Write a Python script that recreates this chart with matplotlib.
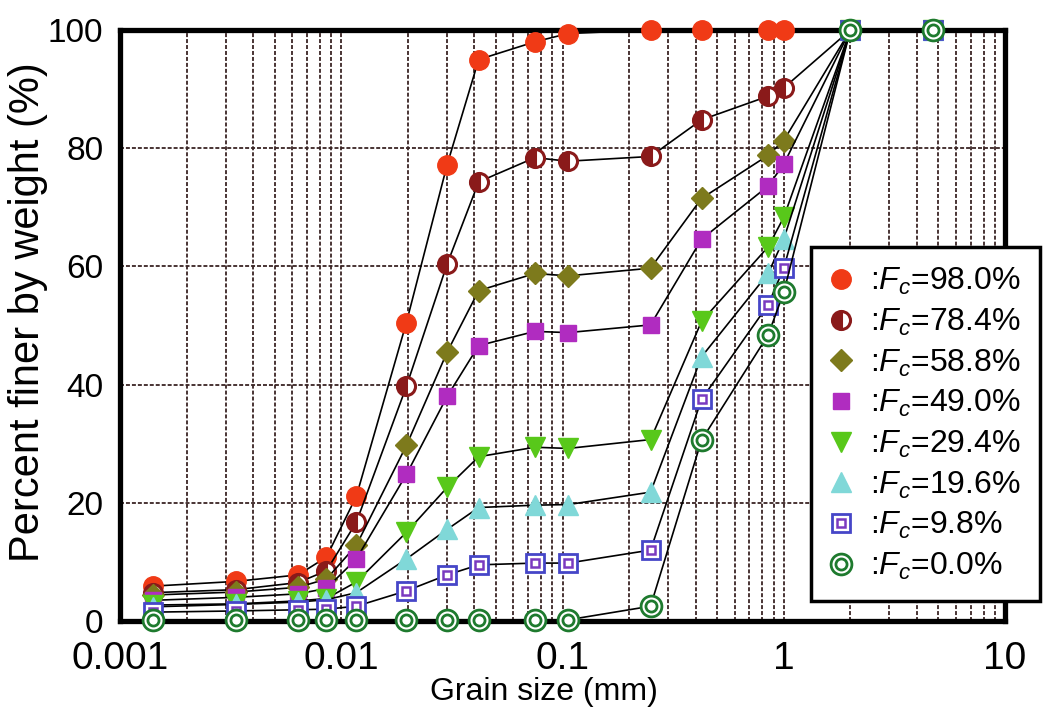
import matplotlib
matplotlib.use('Agg')
import matplotlib.pyplot as plt
from matplotlib.ticker import FixedLocator, NullFormatter, FixedFormatter
from matplotlib.legend_handler import HandlerTuple
from matplotlib.lines import Line2D
from matplotlib import font_manager

# ---------------- data ----------------
grain_size = [0.00141, 0.00334, 0.00638, 0.00857, 0.0117, 0.0197, 0.0301, 0.0418,
              0.075, 0.106, 0.25, 0.425, 0.85, 1.0, 2.0, 4.75]

fc_980 = [5.9, 6.7, 7.8, 10.8, 21.1, 50.5, 77.2, 95.0, 98.0, 99.4, 100, 100, 100, 100, 100, 100]
fc_784 = [4.8, 5.3, 6.5, 8.5, 16.7, 39.7, 60.4, 74.3, 78.4, 77.8, 78.6, 84.8, 88.8, 90.2, 100, 100]
fc_588 = [4.4, 4.9, 5.7, 7.1, 12.8, 29.7, 45.5, 55.9, 58.8, 58.4, 59.7, 71.5, 78.8, 81.3, 100, 100]
fc_490 = [3.5, 4.0, 4.6, 5.5, 10.5, 24.8, 38.0, 46.6, 49.0, 48.8, 50.1, 64.6, 73.6, 77.3, 100, 100]
fc_294 = [2.7, 2.9, 3.4, 3.8, 6.6, 15.0, 22.6, 27.8, 29.4, 29.2, 30.7, 50.7, 63.3, 68.3, 100, 100]
fc_196 = [2.4, 2.8, 3.2, 3.6, 4.8, 10.5, 15.5, 19.2, 19.6, 19.7, 21.8, 44.7, 58.8, 64.6, 100, 100]
fc_98 = [1.5, 1.7, 1.9, 2.0, 2.5, 5.1, 7.8, 9.5, 9.8, 9.8, 12.0, 37.5, 53.5, 59.7, 100, 100]
fc_00 = [0.2, 0.2, 0.2, 0.2, 0.2, 0.2, 0.2, 0.2, 0.2, 0.2, 2.5, 30.6, 48.4, 55.6, 100, 100]

series_labels = ['98.0', '78.4', '58.8', '49.0', '29.4', '19.6', '9.8', '0.0']
x_ticks = [0.001, 0.01, 0.1, 1, 10]
x_ticklabels = ['0.001', '0.01', '0.1', '1', '10']
y_ticks = [0, 20, 40, 60, 80, 100]

# ---------------- fonts ----------------
def has_font(name):
    try:
        font_manager.findfont(name, fallback_to_default=False)
        return True
    except Exception:
        return False

base_font = 'Liberation Sans' if has_font('Liberation Sans') else 'DejaVu Sans'
plt.rcParams['font.family'] = [base_font, 'DejaVu Sans']
plt.rcParams['mathtext.fontset'] = 'custom'
plt.rcParams['mathtext.rm'] = base_font
plt.rcParams['mathtext.it'] = base_font + ':italic'

fig = plt.figure(figsize=(10.43, 7.08), dpi=100)
ax = fig.add_axes([120 / 1043, 1 - 621 / 708, 885 / 1043, 591 / 708])

ax.set_xscale('log')
ax.set_xlim(0.001, 10)
ax.set_ylim(0, 100)

# grid
minor = []
for dec in [0.001, 0.01, 0.1, 1]:
    for k in range(2, 10):
        minor.append(dec * k)
ax.xaxis.set_major_locator(FixedLocator(x_ticks))
ax.xaxis.set_major_formatter(FixedFormatter(x_ticklabels))
ax.xaxis.set_minor_locator(FixedLocator(minor))
ax.xaxis.set_minor_formatter(NullFormatter())
ax.yaxis.set_major_locator(FixedLocator(y_ticks))
grid_kw = dict(color='#3a2424', linestyle=(0, (2.2, 1.1)), linewidth=1.3)
ax.grid(True, which='major', axis='both', **grid_kw)
ax.grid(True, which='minor', axis='x', **grid_kw)
ax.set_axisbelow(True)

for s in ax.spines.values():
    s.set_linewidth(3.8)
    s.set_color('black')
    s.set_zorder(2.5)

ax.tick_params(axis='both', which='both', length=0)
ax.tick_params(axis='y', labelsize=24, pad=12)
ax.tick_params(axis='x', labelsize=28, pad=14.5)

ax.set_ylabel('Percent finer by weight (%)', fontsize=30)
ax.yaxis.set_label_coords(-0.081, 0.523)
ax.set_xlabel('Grain size (mm)', fontsize=23, va='bottom')
ax.xaxis.set_label_coords(0.479, -0.1455)

lw = 1.2
handles = []

# 98.0
h, = ax.plot(grain_size, fc_980, color='black', lw=lw, marker='o', ms=14,
             mfc='#f03a16', mec='#f03a16', zorder=3, clip_on=False)
handles.append(h)
# 78.4 half-filled circle
h, = ax.plot(grain_size, fc_784, color='black', lw=lw, marker='o', ms=13,
             fillstyle='left', mfc='#8a1a1a', mfcalt='white', mec='#8a1a1a', mew=2.2,
             zorder=3.1, clip_on=False)
handles.append(h)
# 58.8 diamond
h, = ax.plot(grain_size, fc_588, color='black', lw=lw, marker='D', ms=11,
             mfc='#7d7a1c', mec='#7d7a1c', zorder=3.2, clip_on=False)
handles.append(h)
# 49.0 square
h, = ax.plot(grain_size, fc_490, color='black', lw=lw, marker='s', ms=12,
             mfc='#b02cc0', mec='#b02cc0', zorder=3.3, clip_on=False)
handles.append(h)
# 29.4 triangle down
h, = ax.plot(grain_size, fc_294, color='black', lw=lw, marker='v', ms=14,
             mfc='#58c81a', mec='#58c81a', zorder=3.4, clip_on=False)
handles.append(h)
# 19.6 triangle up
h, = ax.plot(grain_size, fc_196, color='black', lw=lw, marker='^', ms=14,
             mfc='#80d8d8', mec='#80d8d8', zorder=3.5, clip_on=False)
handles.append(h)
# 9.8 double square
h1, = ax.plot(grain_size, fc_98, color='black', lw=lw, marker='s', ms=13,
              mfc='white', mec='#4646c8', mew=2.0, zorder=3.6, clip_on=False)
h2, = ax.plot(grain_size, fc_98, ls='none', marker='s', ms=5.5,
              mfc='white', mec='#7a3ac0', mew=1.8, zorder=3.61, clip_on=False)
handles.append((h1, h2))
# 0.0 double circle
h1, = ax.plot(grain_size, fc_00, color='black', lw=lw, marker='o', ms=15,
              mfc='white', mec='#1e7a2e', mew=2.0, zorder=3.7, clip_on=False)
h2, = ax.plot(grain_size, fc_00, ls='none', marker='o', ms=8,
              mfc='white', mec='#1e7a2e', mew=2.0, zorder=3.71, clip_on=False)
handles.append((h1, h2))

labels = [r':$\mathit{F}_{\mathit{c}}$=' + v + '%' for v in series_labels]


def legend_copy(x):
    return Line2D([], [], ls='none', marker=x.get_marker(), ms=x.get_markersize(),
                  mfc=x.get_markerfacecolor(), mec=x.get_markeredgecolor(),
                  mfcalt=x.get_markerfacecoloralt(), fillstyle=x.get_fillstyle(),
                  mew=x.get_markeredgewidth())


leg_handles = []
for hh in handles:
    if isinstance(hh, tuple):
        leg_handles.append(tuple(legend_copy(x) for x in hh))
    else:
        leg_handles.append(legend_copy(hh))

leg = fig.legend(leg_handles, labels, loc='upper right', bbox_to_anchor=(1040 / 1043, 1 - 247 / 708),
                 borderaxespad=0, fontsize=23, frameon=True, fancybox=False, framealpha=1,
                 edgecolor='black', handlelength=0.7, handletextpad=0.55, labelspacing=0.3,
                 borderpad=0.6, handler_map={tuple: HandlerTuple(ndivide=1, pad=0)})
leg.get_frame().set_linewidth(2.5)
leg.set_zorder(10)

fig.savefig('out.png', dpi=100)
